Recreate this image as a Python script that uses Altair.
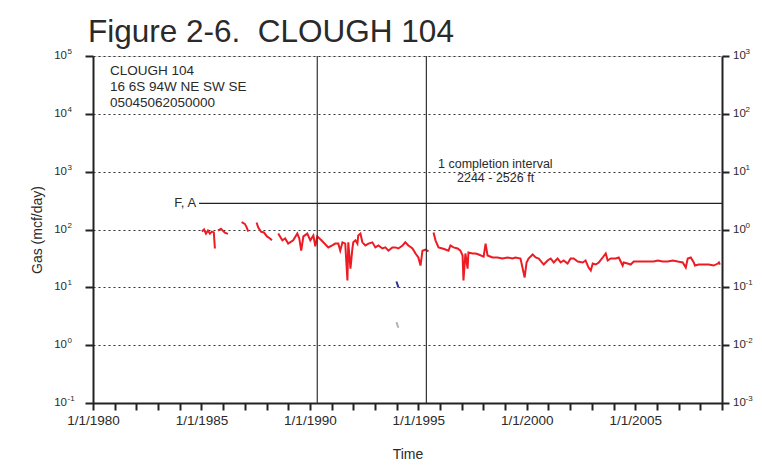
import altair as alt
import pandas as pd

# ---------------- data ----------------
title_text = "Figure 2-6.\u00a0 CLOUGH 104"
well_lines = ["CLOUGH 104", "16 6S 94W NE SW SE", "05045062050000"]
completion_lines = ["1 completion interval", "2244 - 2526 ft"]

gas_seg1_year = [1985.02, 1985.12, 1985.21, 1985.30, 1985.39, 1985.48, 1985.57, 1985.62]
gas_seg1_val = [92, 100, 85, 96, 85, 92, 89, 47]
gas_seg2_year = [1985.76, 1985.90, 1986.08, 1986.22]
gas_seg2_val = [96, 103, 88, 84]
gas_seg3_year = [1986.85, 1987.00, 1987.08, 1987.16]
gas_seg3_val = [134, 125, 110, 92]
gas_seg4_year = [1987.54, 1987.62, 1987.74, 1987.88, 1988.02, 1988.16, 1988.25]
gas_seg4_val = [132, 108, 92, 89, 76, 70, 65]
gas_seg5_year = [1988.54, 1988.73, 1988.86, 1989.00, 1989.23, 1989.42, 1989.51, 1989.60, 1989.70, 1989.88,
                 1990.02, 1990.16, 1990.25, 1990.34, 1990.53, 1990.85, 1991.03, 1991.17, 1991.31, 1991.40,
                 1991.50, 1991.63, 1991.73, 1991.77, 1991.87, 1991.96, 1992.00, 1992.10, 1992.19, 1992.23,
                 1992.33, 1992.42, 1992.56, 1992.70, 1992.88, 1993.02, 1993.16, 1993.34, 1993.48, 1993.62,
                 1993.80, 1993.94, 1994.08, 1994.27, 1994.40, 1994.54, 1994.73, 1994.87, 1995.00, 1995.10,
                 1995.19, 1995.33, 1995.47]
gas_seg5_val = [85, 65, 70, 57, 65, 85, 70, 43, 76, 85,
                65, 79, 51, 76, 65, 49, 53, 57, 57, 43,
                60, 57, 13.1, 60, 21.1, 47, 60, 65, 57, 79,
                85, 60, 53, 57, 60, 49, 53, 47, 49, 43,
                49, 49, 47, 53, 60, 53, 47, 38.5, 32.8, 23.8,
                43, 45, 42]
gas_seg6_year = [1995.70, 1995.79, 1995.93, 1996.11, 1996.25, 1996.39, 1996.48, 1996.62, 1996.81, 1996.94,
                 1997.04, 1997.08, 1997.17, 1997.27, 1997.31, 1997.50, 1997.64, 1997.78, 1998.01, 1998.10,
                 1998.19, 1998.42, 1998.65, 1998.88, 1999.11, 1999.34, 1999.48, 1999.71, 1999.81, 1999.90,
                 1999.99, 2000.08, 2000.27, 2000.41, 2000.55, 2000.78, 2000.96, 2001.10, 2001.24, 2001.42,
                 2001.56, 2001.70, 2001.88, 2002.02, 2002.16, 2002.35, 2002.58, 2002.71, 2002.85, 2002.95,
                 2003.04, 2003.18, 2003.32, 2003.50, 2003.64, 2003.73, 2003.87, 2004.10, 2004.24, 2004.42,
                 2004.47, 2004.65, 2004.79, 2004.93, 2005.16, 2005.39, 2005.62, 2005.85, 2006.04, 2006.27,
                 2006.50, 2006.73, 2006.96, 2007.19, 2007.33, 2007.42, 2007.56, 2007.70, 2007.75, 2007.93,
                 2008.16, 2008.39, 2008.62, 2008.81, 2008.86, 2008.90]
gas_seg6_val = [89, 65, 49, 47, 45, 43, 53, 49, 47, 43,
                35.5, 13.1, 38.5, 21.1, 40, 38.5, 38.5, 37, 34, 57,
                35.5, 32.8, 32.8, 31.5, 32.8, 31.5, 32.8, 31.5, 21.1, 14.8,
                26.9, 31.5, 37, 32.8, 31.5, 24.8, 29.1, 31.5, 26.9, 31.5,
                26.9, 29.1, 25.8, 31.5, 31.5, 27.9, 26.9, 29.1, 22, 19.5,
                25.8, 24.8, 26.9, 32.8, 38.5, 29.1, 31.5, 31.5, 32.8, 23.8,
                26.9, 25.8, 24.8, 27.9, 27.9, 27.9, 27.9, 27.9, 29.1, 27.9,
                27.9, 29.1, 27.9, 26.9, 22, 31.5, 32.8, 26.9, 23.8, 24.8,
                24.8, 24.8, 23.8, 25.8, 26.9, 24.8]

oil_year = [1993.99, 1994.08]
oil_val = [0.126, 0.100]
water_year = [1993.99, 1994.08]
water_val = [0.025, 0.020]

event_years = [1990.34, 1995.37]
fa_start_year = 1984.89
fa_value = 282
x_start, x_end = 1980, 2009
left_exps = [-1, 0, 1, 2, 3, 4, 5]
right_exps = [-3, -2, -1, 0, 1, 2, 3]

# ---------------- tables ----------------
segs = [(gas_seg1_year, gas_seg1_val), (gas_seg2_year, gas_seg2_val), (gas_seg3_year, gas_seg3_val),
        (gas_seg4_year, gas_seg4_val), (gas_seg5_year, gas_seg5_val), (gas_seg6_year, gas_seg6_val)]
rows = []
for i, (ys, vs) in enumerate(segs):
    for y, v in zip(ys, vs):
        rows.append({"year": y, "gas": v, "seg": i})
gas_df = pd.DataFrame(rows)

oil_df = pd.DataFrame({"year": oil_year + water_year, "val": oil_val + water_val,
                       "series": ["oil"] * len(oil_year) + ["water"] * len(water_year)})

left_lab_df = pd.DataFrame({"v": [10.0 ** e for e in left_exps], "base": "10", "exp": [str(e) for e in left_exps]})
right_lab_df = pd.DataFrame({"v": [10.0 ** e for e in right_exps], "base": "10", "exp": [str(e) for e in right_exps]})

FONT = "Liberation Sans"
TXT = "#2a2a2a"
W, H = 629, 347

left_scale = alt.Scale(type="log", domain=[0.1, 1e5], nice=False)
right_scale = alt.Scale(type="log", domain=[0.001, 1000], nice=False)
x_scale = alt.Scale(domain=[x_start, x_end], nice=False, zero=False)
x_axis = alt.Axis(values=list(range(x_start, x_end + 1)), tickCount=100,
                  labelExpr="datum.value % 5 == 0 ? '1/1/' + datum.value : ''",
                  labelOverlap=False, labelFlush=False, grid=False,
                  tickSize=7, tickWidth=2, tickColor="#222", domainColor="#222", domainWidth=2,
                  labelFont=FONT, labelFontSize=13.5, labelColor=TXT, labelPadding=3,
                  title="Time", titleFont=FONT, titleFontSize=14, titleFontWeight="normal",
                  titleColor=TXT, titlePadding=21)


def xq(field="year"):
    return alt.X(f"{field}:Q", scale=x_scale, axis=x_axis)


y_left_axis = alt.Axis(orient="left", values=[10.0 ** e for e in left_exps], labels=False, tickCount=20,
                       grid=True, gridDash=[2, 3], gridColor="#333", gridWidth=1,
                       tickSize=8, tickWidth=2, tickColor="#222", domainColor="#222", domainWidth=2,
                       title="Gas (mcf/day)", titleFont=FONT, titleFontSize=14, titleFontWeight="normal",
                       titleColor=TXT, titlePadding=40)

gas_line = alt.Chart(gas_df).mark_line(color="#ed1c24", strokeWidth=2).encode(
    x=xq(),
    y=alt.Y("gas:Q", scale=left_scale, axis=y_left_axis),
    detail="seg:N",
)

rules = alt.Chart(pd.DataFrame({"year": event_years})).mark_rule(color="#333", strokeWidth=1.2).encode(
    x=xq())

fa_df = pd.DataFrame({"year": [fa_start_year], "year2": [x_end], "gas": [fa_value], "lab": ["F, A"]})
fa_rule = alt.Chart(fa_df).mark_rule(color="#222", strokeWidth=1.2).encode(
    x=xq(), x2="year2:Q", y=alt.Y("gas:Q", scale=left_scale, axis=y_left_axis))
fa_text = alt.Chart(fa_df).mark_text(align="right", baseline="middle", dx=-3, font=FONT, fontSize=13,
                                     color=TXT).encode(
    x=xq(), y=alt.Y("gas:Q", scale=left_scale, axis=y_left_axis), text="lab:N")

left_base = alt.Chart(left_lab_df).mark_text(align="right", baseline="middle", font=FONT, fontSize=11.5,
                                             color=TXT).encode(
    x=alt.value(-26), y=alt.Y("v:Q", scale=left_scale, axis=y_left_axis), text="base:N")
left_exp = alt.Chart(left_lab_df).mark_text(align="left", baseline="middle", dy=-4, font=FONT, fontSize=8,
                                            color=TXT).encode(
    x=alt.value(-25.5), y=alt.Y("v:Q", scale=left_scale, axis=y_left_axis), text="exp:N")


def static_text(txt, x, y, size, anchor="left"):
    return alt.Chart(pd.DataFrame({"t": [txt]})).mark_text(
        align=anchor, baseline="alphabetic", font=FONT, fontSize=size, color=TXT).encode(
        x=alt.value(x), y=alt.value(y), text="t:N")


title_mark = static_text(title_text, -5, -14, 31.5)
well_marks = [static_text(t, 17, 19 + 16 * i, 13.5) for i, t in enumerate(well_lines)]
comp_marks = [static_text(completion_lines[0], 345, 112, 12.5), static_text(completion_lines[1], 364, 126, 12.5)]

left_layer = alt.layer(gas_line, rules, fa_rule, fa_text, left_base, left_exp, title_mark,
                       *well_marks, *comp_marks)

y_right_axis = alt.Axis(orient="right", values=[10.0 ** e for e in right_exps], labels=False, grid=False,
                        tickCount=20, tickSize=7, tickWidth=2, tickColor="#222", domainColor="#222",
                        domainWidth=2, title=None)
oil_line = alt.Chart(oil_df).mark_line(strokeWidth=2).encode(
    x=xq(),
    y=alt.Y("val:Q", scale=right_scale, axis=y_right_axis),
    color=alt.Color("series:N", scale=alt.Scale(domain=["oil", "water"], range=["#2e3192", "#b3b3b3"]),
                    legend=None),
    detail="series:N",
)
right_base = alt.Chart(right_lab_df).mark_text(align="left", baseline="middle", font=FONT, fontSize=11.5,
                                               color=TXT).encode(
    x=alt.value(W + 11), y=alt.Y("v:Q", scale=right_scale, axis=y_right_axis), text="base:N")
right_exp = alt.Chart(right_lab_df).mark_text(align="left", baseline="middle", dy=-4, font=FONT, fontSize=8,
                                              color=TXT).encode(
    x=alt.value(W + 23.5), y=alt.Y("v:Q", scale=right_scale, axis=y_right_axis), text="exp:N")

right_layer = alt.layer(oil_line, right_base, right_exp)

chart = alt.layer(left_layer, right_layer).resolve_scale(y="independent").properties(
    width=W, height=H,
    autosize=alt.AutoSizeParams(type="none"),
    padding={"left": 85, "top": 48, "right": 32, "bottom": 58},
).configure_view(stroke="#222", strokeWidth=2).configure(background="white")

chart.save("out.html", embed_options={"renderer": "svg", "actions": False})
